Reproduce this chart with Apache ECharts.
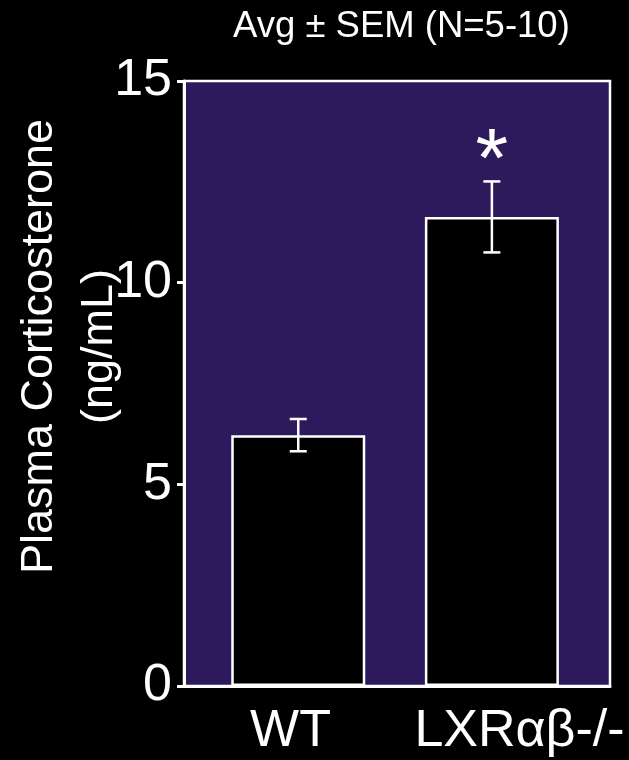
<!DOCTYPE html>
<html>
<head>
<meta charset="utf-8">
<script src="https://cdn.jsdelivr.net/npm/echarts@6/dist/echarts.min.js"></script>
<style>
html,body{margin:0;padding:0;background:#000;}
#chart{width:629px;height:760px;}
</style>
</head>
<body>
<div id="chart"></div>
<script>
var categories = ['WT', 'LXR\u03b1\u03b2-/-'];
var means = [6.22, 11.63];
var sems = [0.40, 0.88];
var marks = ['', '*'];
var yTicks = [0, 5, 10, 15];
var titleText = 'Avg \u00b1 SEM (N=5-10)';
var yName = 'Plasma Corticosterone\n(ng/mL)';

var FONT = '"Liberation Sans", Arial, Helvetica, sans-serif';
var chart = echarts.init(document.getElementById('chart'));

var barData = categories.map(function (c, i) {
  return { value: [i + 1, means[i]], mark: marks[i] };
});
var errData = categories.map(function (c, i) {
  return [i + 1, means[i] - sems[i], means[i] + sems[i]];
});

chart.setOption({
  backgroundColor: '#000000',
  animation: false,
  title: {
    text: titleText,
    left: 233, top: 8, padding: 0,
    textStyle: { color: '#ffffff', fontSize: 36.5, fontWeight: 'normal', fontFamily: FONT }
  },
  grid: {
    left: 184, right: 19, top: 81, bottom: 74,
    containLabel: false, outerBoundsMode: 'none',
    show: true, backgroundColor: '#2d1a5c', borderColor: '#ffffff', borderWidth: 2.5
  },
  xAxis: [{
    type: 'value', min: 0.41, max: 2.61, show: true,
    axisLine: { show: true, lineStyle: { color: '#ffffff', width: 3 } },
    axisTick: { show: false }, axisLabel: { show: false }, splitLine: { show: false }
  }, {
    type: 'category', data: categories, position: 'bottom',
    axisLine: { show: false }, axisTick: { show: false }, splitLine: { show: false },
    axisLabel: {
      interval: 0, hideOverlap: false,
      color: '#ffffff', fontSize: 52, fontFamily: FONT, margin: 20,
      formatter: function (v, i) { return i === 1 ? '{b|' + v + '}' : '{a|' + v + '}'; },
      rich: {
        a: { color: '#ffffff', fontSize: 52, fontFamily: FONT },
        b: { color: '#ffffff', fontSize: 52, fontFamily: FONT, padding: [0, 0, 0, 32] }
      }
    }
  }],
  yAxis: {
    type: 'value', min: yTicks[0], max: yTicks[yTicks.length - 1], interval: 5,
    name: yName, nameLocation: 'middle', nameGap: 54, nameRotate: 90, nameMoveOverlap: false,
    nameTextStyle: { color: '#ffffff', fontSize: 45, fontFamily: FONT, lineHeight: 60, align: 'center', padding: [0, 0, 0, 74] },
    axisLine: { show: true, lineStyle: { color: '#ffffff', width: 3 } },
    axisTick: { show: true, inside: false, length: 7, lineStyle: { color: '#ffffff', width: 3 } },
    axisLabel: { color: '#ffffff', fontSize: 52, fontFamily: FONT, margin: 12 },
    splitLine: { show: false }
  },
  series: [{
    type: 'bar', xAxisIndex: 0, data: barData, barWidth: 134,
    itemStyle: { color: '#000000', borderColor: '#ffffff', borderWidth: 2.5 },
    label: {
      show: true, position: 'top', distance: 11,
      formatter: function (p) { return p.data.mark; },
      color: '#ffffff', fontSize: 84, fontFamily: FONT
    },
    z: 2
  }, {
    type: 'custom', xAxisIndex: 0, data: errData, z: 3,
    renderItem: function (params, api) {
      var x = api.value(0);
      var lo = api.coord([x, api.value(1)]);
      var hi = api.coord([x, api.value(2)]);
      var w = 8.5;
      var st = { stroke: '#ffffff', lineWidth: 2.5 };
      return {
        type: 'group',
        children: [
          { type: 'line', shape: { x1: lo[0], y1: lo[1], x2: hi[0], y2: hi[1] }, style: st },
          { type: 'line', shape: { x1: lo[0] - w, y1: lo[1], x2: lo[0] + w, y2: lo[1] }, style: st },
          { type: 'line', shape: { x1: hi[0] - w, y1: hi[1], x2: hi[0] + w, y2: hi[1] }, style: st }
        ]
      };
    }
  }]
});
</script>
</body>
</html>
